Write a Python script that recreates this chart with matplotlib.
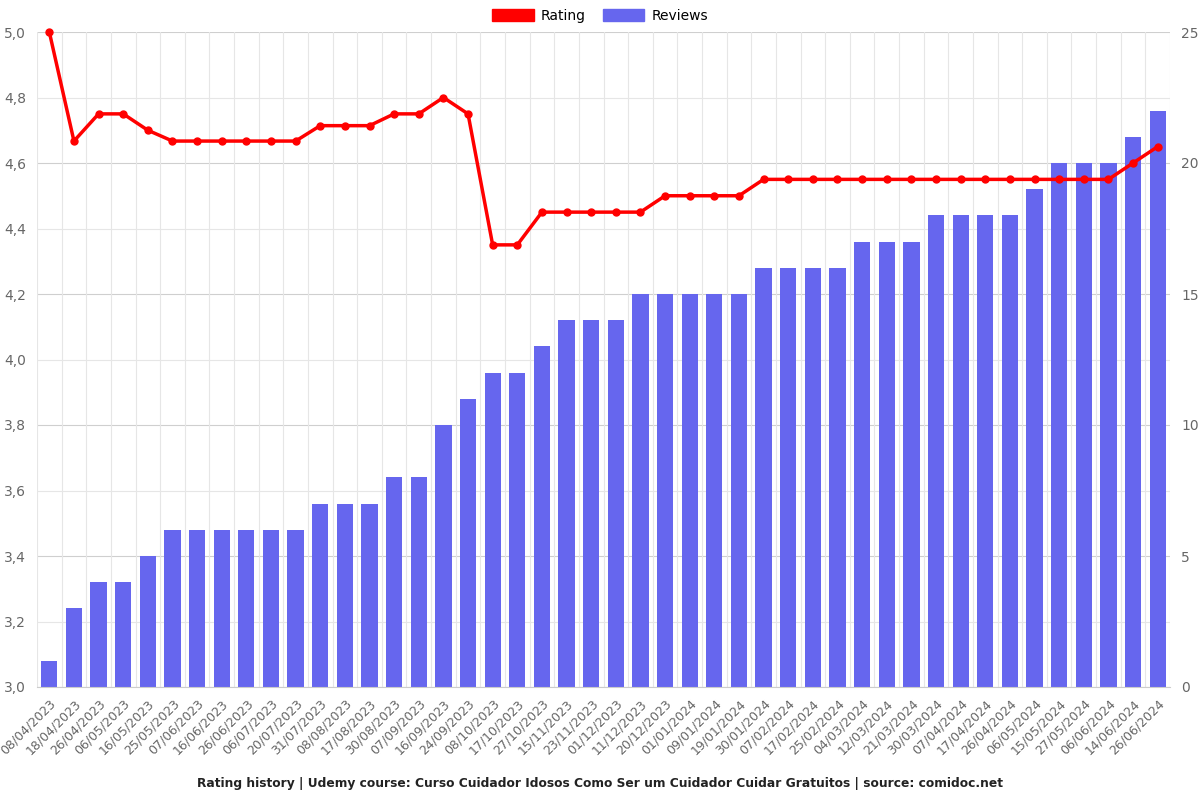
import matplotlib
matplotlib.use("Agg")
import matplotlib.pyplot as plt
from matplotlib.ticker import FuncFormatter, MultipleLocator
from matplotlib.patches import Patch
import matplotlib.transforms as mtransforms
import numpy as np

dates = ["08/04/2023", "18/04/2023", "26/04/2023", "06/05/2023", "16/05/2023", "25/05/2023",
         "07/06/2023", "16/06/2023", "26/06/2023", "06/07/2023", "20/07/2023", "31/07/2023",
         "08/08/2023", "17/08/2023", "30/08/2023", "07/09/2023", "16/09/2023", "24/09/2023",
         "08/10/2023", "17/10/2023", "27/10/2023", "15/11/2023", "23/11/2023", "01/12/2023",
         "11/12/2023", "20/12/2023", "01/01/2024", "09/01/2024", "19/01/2024", "30/01/2024",
         "07/02/2024", "17/02/2024", "25/02/2024", "04/03/2024", "12/03/2024", "21/03/2024",
         "30/03/2024", "07/04/2024", "17/04/2024", "26/04/2024", "06/05/2024", "15/05/2024",
         "27/05/2024", "06/06/2024", "14/06/2024", "26/06/2024"]

reviews = [1, 3, 4, 4, 5, 6, 6, 6, 6, 6, 6, 7, 7, 7, 8, 8, 10, 11, 12, 12, 13, 14, 14, 14,
           15, 15, 15, 15, 15, 16, 16, 16, 16, 17, 17, 17, 18, 18, 18, 18, 19, 20, 20, 20, 21, 22]

rating = [5.0, 4.667, 4.75, 4.75, 4.7, 4.667, 4.667, 4.667, 4.667, 4.667, 4.667, 4.714,
          4.714, 4.714, 4.75, 4.75, 4.8, 4.75, 4.35, 4.35, 4.45, 4.45, 4.45, 4.45, 4.45,
          4.5, 4.5, 4.5, 4.5, 4.55, 4.55, 4.55, 4.55, 4.55, 4.55, 4.55, 4.55, 4.55, 4.55,
          4.55, 4.55, 4.55, 4.55, 4.55, 4.6, 4.65]

title = "Rating history | Udemy course: Curso Cuidador Idosos Como Ser um Cuidador Cuidar Gratuitos | source: comidoc.net"

RED = "#ff0000"
BLUE = "#6666ee"
GRID = "#e6e6e6"
GRID2 = "#cfcfcf"
TXT = "#666666"

fig = plt.figure(figsize=(12, 8), dpi=100)
axb = fig.add_axes([37/1200, 1 - 687/800, (1170 - 37)/1200, (687 - 32)/800])
x = np.arange(len(dates))

# bars axis (right scale)
axb.bar(x, reviews, width=0.66, color=BLUE, zorder=2)
axb.set_ylim(0, 25)
axb.set_xlim(-0.5, len(dates) - 0.5)
for i, v in enumerate(np.arange(0, 25.01, 2.5)):
    axb.axhline(v, color=GRID2 if i % 2 == 0 else GRID, lw=0.8, zorder=0)
for b in np.arange(-0.5, len(dates), 1):
    axb.axvline(b, color=GRID, lw=0.8, zorder=0)
axb.set_xticks(x)
axb.set_xticklabels(dates, rotation=45, ha="right", rotation_mode="anchor", fontsize=9, color=TXT)
offset = mtransforms.ScaledTranslation(8/100, 0, fig.dpi_scale_trans)
for lab in axb.get_xticklabels():
    lab.set_transform(lab.get_transform() + offset)
axb.tick_params(axis="x", length=0, pad=7)
for s in axb.spines.values():
    s.set_visible(False)

# rating axis (left scale), on top
axl = axb.twinx()
axl.plot(x, rating, color=RED, lw=2.5, marker="o", markersize=5, zorder=3, clip_on=False)
axl.set_ylim(3.0, 5.0)
axl.yaxis.set_major_locator(MultipleLocator(0.2))
axl.yaxis.set_major_formatter(FuncFormatter(lambda v, p: f"{v:.1f}".replace(".", ",")))
for s in axl.spines.values():
    s.set_visible(False)
axl.spines["bottom"].set_visible(True)
axl.spines["bottom"].set_color("#cccccc")

# set tick sides after twinx
axl.yaxis.tick_left()
axl.yaxis.set_label_position("left")
axb.yaxis.tick_right()
axb.yaxis.set_major_locator(MultipleLocator(5))
axb.yaxis.set_major_formatter(FuncFormatter(lambda v, p: f"{int(v)}"))
axb.tick_params(axis="y", which="both", left=False, labelleft=False, right=False, labelright=True,
                length=0, labelsize=10, labelcolor=TXT, pad=8)
axl.tick_params(axis="y", which="both", right=False, labelright=False, left=False, labelleft=True,
                length=0, labelsize=10, labelcolor=TXT, pad=8)

handles = [Patch(color=RED, label="Rating"), Patch(color=BLUE, label="Reviews")]
fig.legend(handles=handles, loc="center", bbox_to_anchor=(0.5, 1 - 16/800), ncol=2,
           frameon=False, fontsize=10, handlelength=3, handleheight=1.0, columnspacing=1.2,
           handletextpad=0.5)

fig.text(0.5, 1 - 783/800, title, ha="center", va="center", fontsize=8.8, fontweight="bold", color="#222222")

fig.savefig("out.png", dpi=100)
